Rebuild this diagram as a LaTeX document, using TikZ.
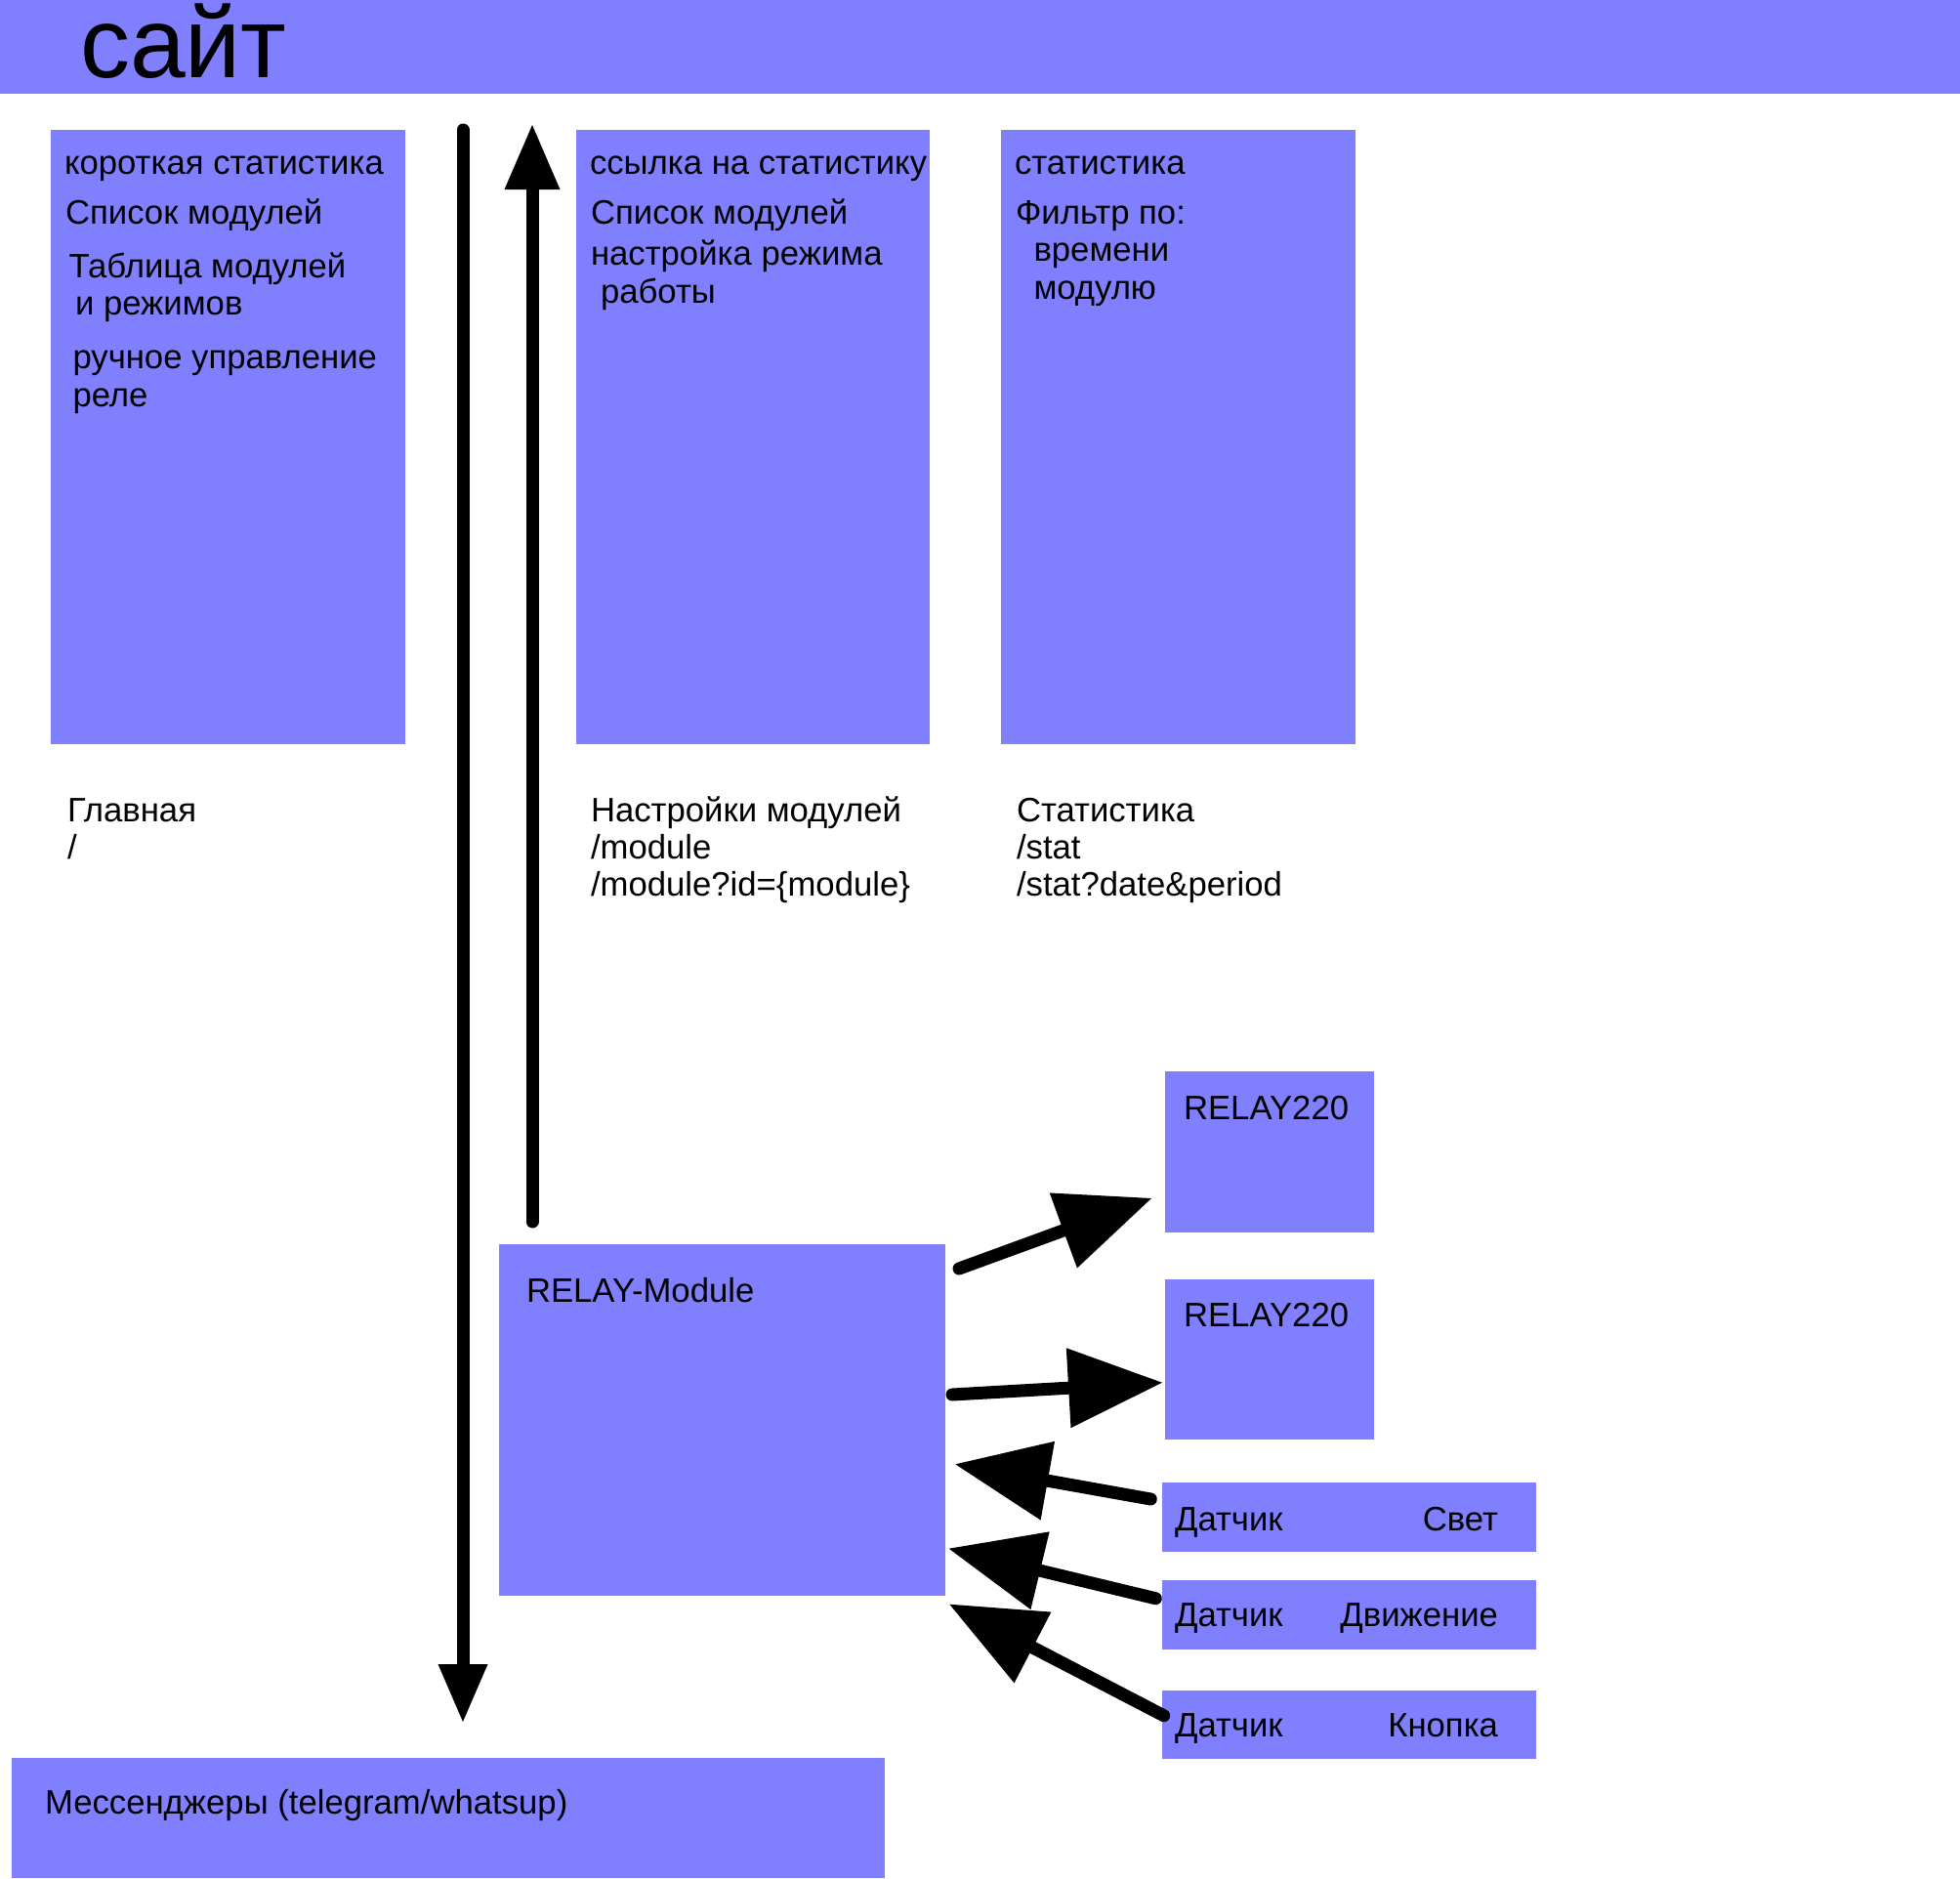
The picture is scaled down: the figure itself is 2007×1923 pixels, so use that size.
\documentclass[tikz,border=0pt]{standalone}
\usepackage{fontspec}
\setmainfont{Liberation Sans}
\usetikzlibrary{arrows.meta}
\definecolor{boxblue}{RGB}{128,128,255}
\begin{document}
\begin{tikzpicture}[x=1pt,y=-1pt,
  box/.style={fill=boxblue, draw=none, inner sep=0pt, outer sep=0pt, anchor=north west},
  lbl/.style={inner sep=0pt, outer sep=0pt, anchor=base west, font=\fontsize{34.7}{39}\selectfont},
  lblr/.style={lbl, anchor=base east},
  bigarrow/.style={line width=13pt, line cap=round, -{Triangle[length=96pt,width=82pt,line width=0pt]}},
  downarrow/.style={line width=13pt, line cap=round, -{Triangle[length=59pt,width=51pt,line width=0pt]}},
  uparrow/.style={line width=13pt, line cap=round, -{Triangle[length=66pt,width=57pt,line width=0pt]}},
]
\useasboundingbox (0,0) rectangle (2007,1923);

% boxes
\node[box, minimum width=2007pt, minimum height=96pt] (site) at (0,0) {};
\node[box, minimum width=363pt, minimum height=629pt] (home) at (52,133) {};
\node[box, minimum width=362pt, minimum height=629pt] (modset) at (590,133) {};
\node[box, minimum width=363pt, minimum height=629pt] (stat) at (1025,133) {};
\node[box, minimum width=457pt, minimum height=360pt] (relaymod) at (511,1274) {};
\node[box, minimum width=214pt, minimum height=165pt] (relayA) at (1193,1097) {};
\node[box, minimum width=214pt, minimum height=164pt] (relayB) at (1193,1310) {};
\node[box, minimum width=383pt, minimum height=71pt] (sensLight) at (1190,1518) {};
\node[box, minimum width=383pt, minimum height=71pt] (sensMove) at (1190,1618) {};
\node[box, minimum width=383pt, minimum height=70pt] (sensBtn) at (1190,1731) {};
\node[box, minimum width=894pt, minimum height=123pt] (msg) at (12,1800) {};

% title
\node[lbl, font=\fontsize{102}{118}\selectfont] (title) at (82,79) {сайт};

% box texts
\node[lbl] (a1) at (66,178.3) {короткая статистика};
\node[lbl] (a2) at (67,229.3) {Список модулей};
\node[lbl] (a3) at (70.5,284) {Таблица модулей};
\node[lbl] (a4) at (77,322.7) {и режимов};
\node[lbl] (a5) at (74.5,377.3) {ручное управление};
\node[lbl] (a6) at (74.5,416) {реле};

\node[lbl] (b1) at (604,178.3) {ссылка на статистику};
\node[lbl] (b2) at (605,229.3) {Список модулей};
\node[lbl] (b3) at (605,271.7) {настройка режима};
\node[lbl] (b4) at (615,310) {работы};

\node[lbl] (c1) at (1039,178.3) {статистика};
\node[lbl] (c2) at (1040,229.3) {Фильтр по:};
\node[lbl] (c3) at (1058.5,267.3) {времени};
\node[lbl] (c4) at (1058.5,306) {модулю};

% page captions
\node[lbl] (h1) at (69,841) {Главная};
\node[lbl] (h2) at (69,879.3) {/};
\node[lbl] (m1) at (605,841) {Настройки модулей};
\node[lbl] (m2) at (605,879.3) {/module};
\node[lbl] (m3) at (605,917.8) {/module?id=\{module\}};
\node[lbl] (s1) at (1041,841) {Статистика};
\node[lbl] (s2) at (1041,879.3) {/stat};
\node[lbl] (s3) at (1041,917.8) {/stat?date\&period};

% module texts
\node[lbl] (rm) at (539,1333) {RELAY-Module};
\node[lbl] (ra) at (1212,1146.6) {RELAY220};
\node[lbl] (rb) at (1212,1358.4) {RELAY220};
\node[lbl] (d1) at (1203,1567) {Датчик};
\node[lblr] (d1r) at (1534,1567) {Свет};
\node[lbl] (d2) at (1203,1665) {Датчик};
\node[lblr] (d2r) at (1534,1665) {Движение};
\node[lbl] (d3) at (1203,1778) {Датчик};
\node[lblr] (d3r) at (1534,1778) {Кнопка};
\node[lbl] (mt) at (46,1857) {Мессенджеры (telegram/whatsup)};

% connectors
\draw[downarrow] ([shift={(59,0)}]home.north east) -- ([shift={(462,-37)}]msg.north west);
\draw[uparrow] ([shift={(34,-23)}]relaymod.north west) -- ([shift={(-45,-5)}]modset.north west);
\draw[bigarrow] ([shift={(14,25)}]relaymod.north east) -- ([shift={(-14,-35)}]relayA.south west);
\draw[bigarrow] ([shift={(7,154)}]relaymod.north east) -- ([shift={(-3,23.7)}]relayB.west);
\draw[bigarrow] ([shift={(-11.7,-18.5)}]sensLight.west) -- ([shift={(10.3,-134.7)}]relaymod.south east);
\draw[bigarrow] ([shift={(-6.7,-16.8)}]sensMove.west) -- ([shift={(3.7,-48.3)}]relaymod.south east);
\draw[bigarrow] ([shift={(1.7,-9.3)}]sensBtn.west) -- ([shift={(4.3,8.7)}]relaymod.south east);
\end{tikzpicture}
\end{document}
